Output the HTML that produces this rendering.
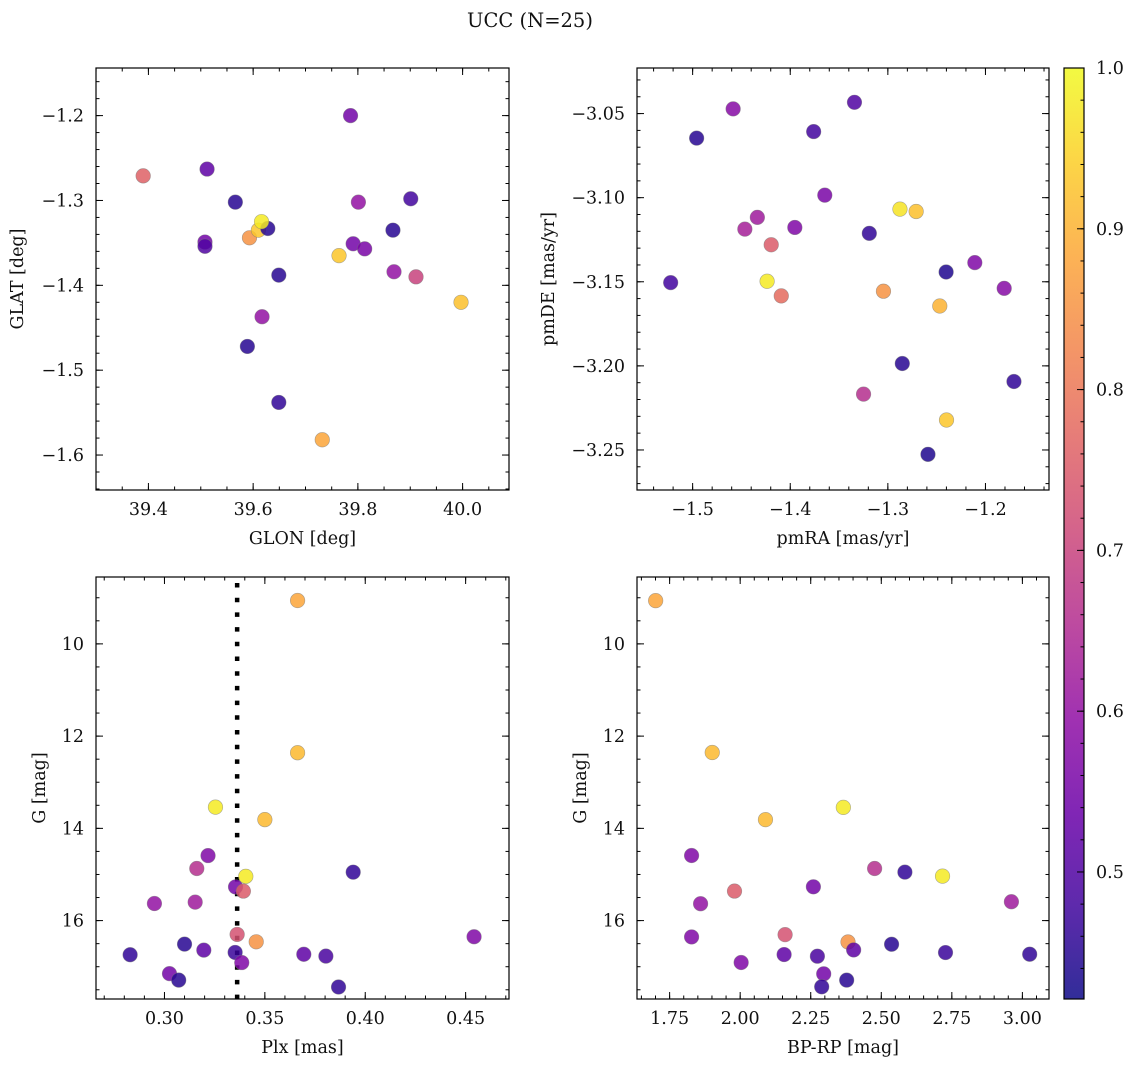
<!DOCTYPE html>
<html><head><meta charset="utf-8"><style>
html,body{margin:0;padding:0;background:#fff;}
svg{display:block;font-family:"DejaVu Serif","Liberation Serif",serif;}
</style></head><body>
<svg id="fig" width="1136" height="1067" viewBox="0 0 1136 1067" xmlns="http://www.w3.org/2000/svg">
<text x="530" y="27" font-size="19.5" text-anchor="middle" fill="#111">UCC (N=25)</text>
</svg>
<script>
// ---- data: panel 1 (GLON vs GLAT)
const glon = [39.390,39.512,39.566,39.508,39.508,39.593,39.610,39.628,39.616,39.649,39.617,39.589,39.649,39.732,39.764,39.786,39.801,39.791,39.813,39.867,39.901,39.869,39.911,39.997];
const glat = [-1.271,-1.263,-1.302,-1.349,-1.354,-1.344,-1.335,-1.333,-1.325,-1.388,-1.437,-1.472,-1.538,-1.582,-1.365,-1.200,-1.302,-1.351,-1.357,-1.335,-1.298,-1.384,-1.390,-1.420];
const probGal = [0.76,0.52,0.45,0.55,0.50,0.85,0.93,0.45,0.98,0.45,0.60,0.45,0.46,0.88,0.93,0.55,0.60,0.55,0.56,0.45,0.48,0.60,0.70,0.92];
// ---- data: panel 2 (pmRA vs pmDE)
const pmra = [-1.5225,-1.4959,-1.4585,-1.4465,-1.4337,-1.4195,-1.4237,-1.4092,-1.3953,-1.3760,-1.3646,-1.3342,-1.3249,-1.3190,-1.3045,-1.2876,-1.2852,-1.2710,-1.2589,-1.2468,-1.2403,-1.2399,-1.2109,-1.1808,-1.1708];
const pmde = [-3.1505,-3.0646,-3.0472,-3.1187,-3.1117,-3.1280,-3.1497,-3.1584,-3.1177,-3.0607,-3.0985,-3.0433,-3.2168,-3.1212,-3.1556,-3.1068,-3.1986,-3.1082,-3.2526,-3.1644,-3.1442,-3.2322,-3.1386,-3.1539,-3.2093];
const probPm = [0.48,0.45,0.58,0.63,0.62,0.75,0.98,0.78,0.57,0.48,0.56,0.50,0.66,0.46,0.85,0.97,0.45,0.92,0.44,0.90,0.44,0.93,0.57,0.58,0.46];
// ---- data: panel 3 (Plx vs G)
const plx = [0.3663,0.3663,0.3254,0.3500,0.3217,0.3161,0.3940,0.3405,0.3354,0.3393,0.2950,0.3153,0.3362,0.4542,0.3457,0.3100,0.3196,0.2829,0.3352,0.3694,0.3804,0.3385,0.3025,0.3071,0.3867];
const gPlx = [9.06,12.36,13.54,13.81,14.59,14.87,14.95,15.04,15.27,15.36,15.63,15.60,16.30,16.35,16.46,16.51,16.64,16.74,16.69,16.73,16.77,16.91,17.15,17.29,17.44];
const probPlx = [0.88,0.91,0.98,0.91,0.57,0.66,0.46,0.98,0.55,0.75,0.60,0.62,0.73,0.57,0.85,0.45,0.52,0.46,0.47,0.52,0.49,0.57,0.55,0.45,0.46];
const plxRef = [0.3362];
// ---- data: panel 4 (BP-RP vs G)
const bprp = [1.7005,1.901,2.0896,2.3656,1.8278,2.4764,2.5837,2.7170,1.9799,2.2594,1.8597,2.9611,1.8278,2.1592,2.3821,2.4021,2.5365,2.1557,2.2736,2.0035,2.7276,3.0259,2.2960,2.3774,2.2889];
const gCmd = [9.063,12.356,13.811,13.545,14.589,14.870,14.949,15.036,15.360,15.267,15.634,15.591,16.354,16.304,16.463,16.636,16.513,16.736,16.772,16.909,16.693,16.729,17.154,17.291,17.435];
const probCmd = [0.88,0.91,0.91,0.98,0.57,0.66,0.46,0.98,0.75,0.55,0.60,0.62,0.57,0.73,0.85,0.52,0.45,0.52,0.49,0.57,0.47,0.46,0.55,0.45,0.46];
// ---- ticks
const ticksGlon = [39.4,39.6,39.8,40.0];
const ticksGlat = [-1.2,-1.3,-1.4,-1.5,-1.6];
const ticksPmra = [-1.5,-1.4,-1.3,-1.2];
const ticksPmde = [-3.05,-3.10,-3.15,-3.20,-3.25];
const ticksPlx = [0.30,0.35,0.40,0.45];
const ticksMag = [10,12,14,16];
const ticksBprp = [1.75,2.00,2.25,2.50,2.75,3.00];
const ticksCbar = [0.5,0.6,0.7,0.8,0.9,1.0];

const NS = "http://www.w3.org/2000/svg";
const svg = document.getElementById('fig');
const VMIN = 0.421, VMAX = 1.0;
const plasma = [[13,8,135],[65,4,157],[106,0,168],[143,13,164],[177,42,144],[204,71,120],[225,100,98],[242,132,75],[252,166,54],[252,206,37],[240,249,33]];
function cmap(v){
  let t=(v-VMIN)/(VMAX-VMIN); t=Math.max(0,Math.min(1,t));
  const f=t*10, i=Math.min(9,Math.floor(f)), r=f-i;
  const a=plasma[i], b=plasma[i+1];
  return 'rgb('+a.map((c,k)=>Math.round(c+(b[k]-c)*r)).join(',')+')';
}
function mk(tag, attrs, parent){
  const e=document.createElementNS(NS,tag);
  for(const k in attrs) e.setAttribute(k,attrs[k]);
  (parent||svg).appendChild(e); return e;
}
function fmt(v,dec){ const s=Math.abs(v).toFixed(dec); return (v<0?'\u2212':'')+s; }
const TF=17.5, LF=17.5;

function panel(o){
  const g=mk('g',{});
  
  
  const sx=v=>o.x0+(v-o.xr[0])/(o.xr[1]-o.xr[0])*(o.x1-o.x0);
  const sy=v=>o.y0+(v-o.yr[0])/(o.yr[1]-o.yr[0])*(o.y1-o.y0);
  const minorX=[], minorY=[];
  const xa=Math.min(o.xr[0],o.xr[1]), xb=Math.max(o.xr[0],o.xr[1]);
  for(let k=Math.ceil(xa/o.xm-1e-6);k*o.xm<=xb+1e-9;k++) minorX.push(k*o.xm);
  const ya=Math.min(o.yr[0],o.yr[1]), yb=Math.max(o.yr[0],o.yr[1]);
  for(let k=Math.ceil(ya/o.ym-1e-6);k*o.ym<=yb+1e-9;k++) minorY.push(k*o.ym);
  const tk=mk('g',{stroke:'#000','stroke-width':1},g);
  minorX.forEach(v=>{const x=sx(v);
    mk('line',{x1:x,x2:x,y1:o.y1,y2:o.y1-3.5},tk); mk('line',{x1:x,x2:x,y1:o.y0,y2:o.y0+3.5},tk);});
  minorY.forEach(v=>{const y=sy(v);
    mk('line',{x1:o.x0,x2:o.x0+3.5,y1:y,y2:y},tk); mk('line',{x1:o.x1,x2:o.x1-3.5,y1:y,y2:y},tk);});
  o.xt.forEach(v=>{const x=sx(v);
    mk('line',{x1:x,x2:x,y1:o.y1,y2:o.y1-7},tk); mk('line',{x1:x,x2:x,y1:o.y0,y2:o.y0+7},tk);
    const t=mk('text',{x:x,y:o.y1+25,'font-size':TF,'text-anchor':'middle',fill:'#111'},g);
    
    
    t.textContent=fmt(v,o.xd);});
  o.yt.forEach(v=>{const y=sy(v);
    mk('line',{x1:o.x0,x2:o.x0+7,y1:y,y2:y},tk); mk('line',{x1:o.x1,x2:o.x1-7,y1:y,y2:y},tk);
    const t=mk('text',{x:o.x0-12,y:y+6,'font-size':TF,'text-anchor':'end',fill:'#111'},g);
    
    
    t.textContent=fmt(v,o.yd);});
  if(o.vline){ o.vline.forEach(v=>{
    const l=mk('line',{x1:sx(v),x2:sx(v),y1:o.y0+6,y2:o.y1,stroke:'#000','stroke-width':4.5,'stroke-dasharray':'4.5 10.2'},g);
    
    });}
  o.xs.forEach((xv,i)=>{
    const c=mk('circle',{cx:sx(xv),cy:sy(o.ys[i]),r:7.3,fill:cmap(o.c[i]),'fill-opacity':0.85,stroke:'#777','stroke-opacity':0.6,'stroke-width':0.6},g);
    
    
  });
  const fr=mk('rect',{x:o.x0,y:o.y0,width:o.x1-o.x0,height:o.y1-o.y0,fill:'none',stroke:'#000','stroke-width':1.2},g);
  
  
  const xl=mk('text',{x:(o.x0+o.x1)/2,y:o.y1+54,'font-size':LF,'text-anchor':'middle',fill:'#111'},g);
  
  
  xl.textContent=o.xlab;
  const ylx=o.ylx, yly=(o.y0+o.y1)/2;
  const yl=mk('text',{x:ylx,y:yly,'font-size':LF,'text-anchor':'middle',fill:'#111',transform:'rotate(-90 '+ylx+' '+yly+')'},g);
  
  
  yl.textContent=o.ylab;
}

panel({name:'panel-glon-glat',x0:96,x1:509,y0:68,y1:490,xr:[39.2999,40.0886],yr:[-1.1439,-1.6412],
  xt:ticksGlon,yt:ticksGlat,xm:0.05,ym:0.02,xd:1,yd:1,xs:glon,ys:glat,c:probGal,xlab:'GLON [deg]',ylab:'GLAT [deg]',ylx:23});
panel({name:'panel-pmra-pmde',x0:637,x1:1049,y0:68,y1:490,xr:[-1.557,-1.1349],yr:[-3.0229,-3.2738],
  xt:ticksPmra,yt:ticksPmde,xm:0.02,ym:0.01,xd:1,yd:2,xs:pmra,ys:pmde,c:probPm,xlab:'pmRA [mas/yr]',ylab:'pmDE [mas/yr]',ylx:554});
panel({name:'panel-plx-g',x0:96,x1:509,y0:577,y1:999,xr:[0.2659,0.4716],yr:[8.55,17.70],
  xt:ticksPlx,yt:ticksMag,xm:0.01,ym:0.5,xd:2,yd:0,xs:plx,ys:gPlx,c:probPlx,xlab:'Plx [mas]',ylab:'G [mag]',ylx:45,vline:plxRef});
panel({name:'panel-cmd',x0:637,x1:1049,y0:577,y1:999,xr:[1.6344,3.0943],yr:[8.55,17.70],
  xt:ticksBprp,yt:ticksMag,xm:0.05,ym:0.5,xd:2,yd:0,xs:bprp,ys:gCmd,c:probCmd,xlab:'BP-RP [mag]',ylab:'G [mag]',ylx:586});

(function(){
  const x0=1064,x1=1084,y0=68,y1=999;
  const cb=mk('g',{});
  
  
  const defs=mk('defs',{},cb);
  const lg=mk('linearGradient',{id:'cbg',x1:0,y1:1,x2:0,y2:0},defs);
  for(let i=0;i<=20;i++){const v=VMIN+(VMAX-VMIN)*i/20;
    mk('stop',{offset:(i/20),'stop-color':cmap(v),'stop-opacity':0.85},lg);}
  mk('rect',{x:x0,y:y0,width:x1-x0,height:y1-y0,fill:'url(#cbg)'},cb);
  const sy=v=>y1-(v-VMIN)/(VMAX-VMIN)*(y1-y0);
  for(let k=22;k<=50;k++){const v=k*0.02; const y=sy(v);
    mk('line',{x1:x1,x2:x1-3.5,y1:y,y2:y,stroke:'#000','stroke-width':1},cb);}
  ticksCbar.forEach(v=>{const y=sy(v);
    mk('line',{x1:x1,x2:x1-7,y1:y,y2:y,stroke:'#000','stroke-width':1},cb);
    const t=mk('text',{x:x1+12,y:y+6,'font-size':TF,fill:'#111'},cb);
    
    
    t.textContent=v.toFixed(1);});
  mk('rect',{x:x0,y:y0,width:x1-x0,height:y1-y0,fill:'none',stroke:'#000','stroke-width':1.2},cb);
})();
</script>
</body></html>
